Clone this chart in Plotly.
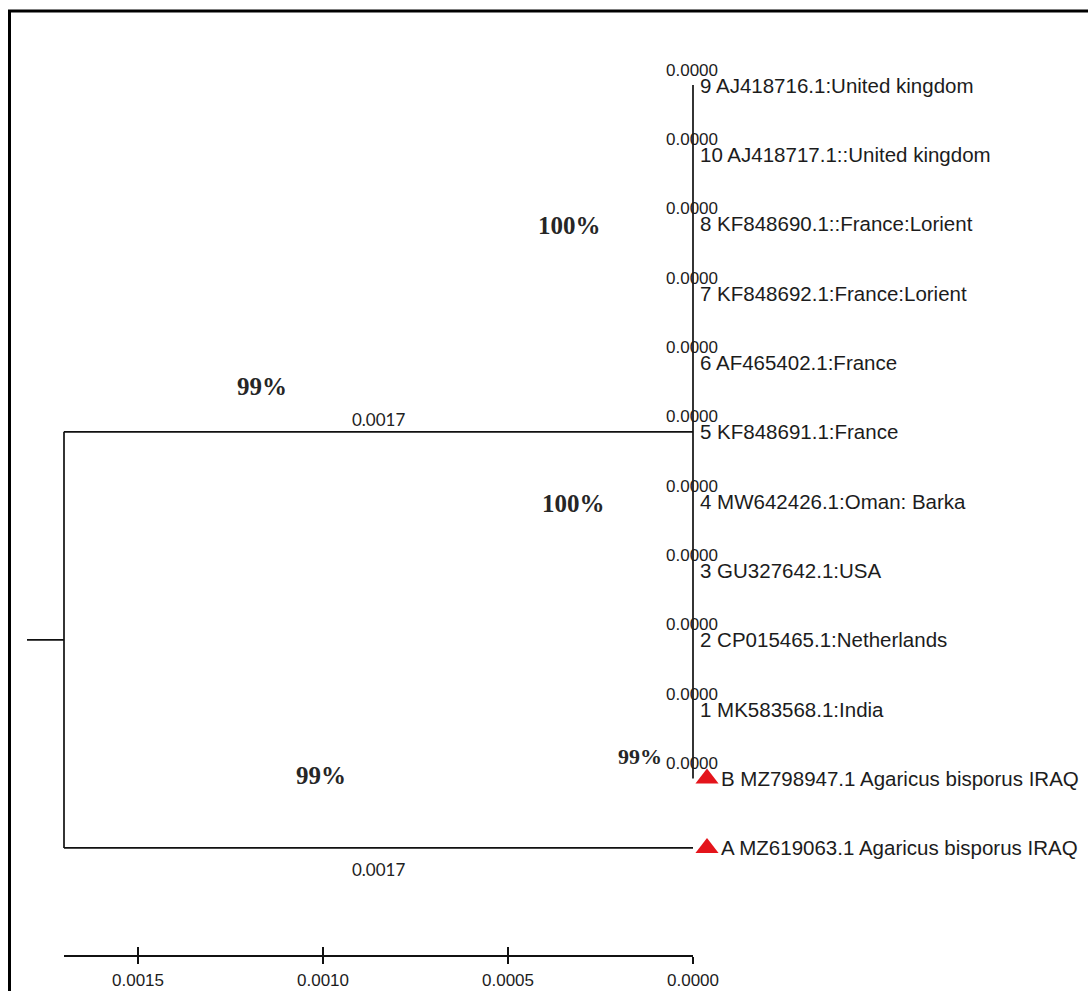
import plotly.graph_objects as go

# ---- tree data -------------------------------------------------------------
clade_leaves = [
    "9 AJ418716.1:United kingdom",
    "10 AJ418717.1::United kingdom",
    "8 KF848690.1::France:Lorient",
    "7 KF848692.1:France:Lorient",
    "6 AF465402.1:France",
    "5 KF848691.1:France",
    "4 MW642426.1:Oman: Barka",
    "3 GU327642.1:USA",
    "2 CP015465.1:Netherlands",
    "1 MK583568.1:India",
    "B MZ798947.1 Agaricus bisporus IRAQ",
]
clade_leaf_lengths = [0.0000, 0.0000, 0.0000, 0.0000, 0.0000, 0.0000,
                      0.0000, 0.0000, 0.0000, 0.0000, 0.0000]
outgroup_leaf = "A MZ619063.1 Agaricus bisporus IRAQ"
clade_stem_length = 0.0017
outgroup_length = 0.0017
marked_leaves = ["B MZ798947.1 Agaricus bisporus IRAQ",
                 "A MZ619063.1 Agaricus bisporus IRAQ"]
bootstrap_labels = ["100%", "100%", "99%", "99%", "99%"]
scale_ticks = [0.0015, 0.0010, 0.0005, 0.0000]

# ---- page geometry (pixels) -----------------------------------------------
W, H = 1088, 991
M_L, M_R, M_T, M_B = 27, 0, 11, 36
PX_ROOT, PX_TIP = 64, 693          # where the root and the tips sit
ROW0_PX, ROW_STEP = 85, 69.36      # first row and row spacing
STUB_PX = 37                       # length of the root stub
MARK_GAP_PX = 14                   # triangle offset right of the tip

plot_w = W - M_L - M_R
plot_h = H - M_T - M_B

# ---- layout of the tree (x = distance to the tips, y = row) ----------------
root_depth = max(clade_stem_length, outgroup_length)
ppu = (PX_TIP - PX_ROOT) / root_depth           # pixels per unit of distance

root_x = root_depth
clade_x = root_x - clade_stem_length
leaf_rows = list(range(len(clade_leaves)))
leaf_xs = [clade_x - L for L in clade_leaf_lengths]
out_row = len(clade_leaves)
out_x = root_x - outgroup_length
clade_y = (leaf_rows[0] + leaf_rows[-1]) / 2
root_y = (clade_y + out_row) / 2

all_names = clade_leaves + [outgroup_leaf]
all_rows = leaf_rows + [out_row]
all_xs = leaf_xs + [out_x]

x_range = [root_x + (PX_ROOT - M_L) / ppu, -(W - M_R - PX_TIP) / ppu]
y_range = [(M_T + plot_h - ROW0_PX) / ROW_STEP, (M_T - ROW0_PX) / ROW_STEP]

# branch segments
segments = [
    (root_x + STUB_PX / ppu, root_y, root_x, root_y),      # root stub
    (root_x, clade_y, root_x, out_row),                    # root vertical
    (root_x, clade_y, clade_x, clade_y),                   # stem to clade
    (root_x, out_row, out_x, out_row),                     # stem to A
    (clade_x, leaf_rows[0], clade_x, leaf_rows[-1]),       # clade vertical
]
for r, x in zip(leaf_rows, leaf_xs):
    if x != clade_x:
        segments.append((clade_x, r, x, r))

fig = go.Figure()
for x0, y0, x1, y1 in segments:
    fig.add_trace(go.Scatter(
        x=[x0, x1], y=[y0, y1], mode="lines",
        line=dict(color="#111111", width=1.7, simplify=False),
        hoverinfo="skip", showlegend=False,
    ))

# red triangles on the Iraqi isolates
mk_x = [all_xs[all_names.index(n)] - MARK_GAP_PX / ppu for n in marked_leaves]
mk_y = [all_rows[all_names.index(n)] for n in marked_leaves]
fig.add_trace(go.Scatter(
    x=mk_x, y=mk_y, mode="markers",
    marker=dict(symbol="triangle-up", size=20, color="#e4141b",
                line=dict(width=0)),
    hoverinfo="skip", showlegend=False, cliponaxis=False,
))

# placeholders so the scale-bar axes are drawn
fig.add_trace(go.Scatter(x=[None], y=[None], xaxis="x2", yaxis="y",
                         hoverinfo="skip", showlegend=False))
fig.add_trace(go.Scatter(x=[None], y=[None], xaxis="x3", yaxis="y",
                         hoverinfo="skip", showlegend=False))

ann = []
sans = "Liberation Sans, Arial, sans-serif"
serif = "Liberation Serif, Times New Roman, serif"
calib = "Lato, Open Sans, sans-serif"

# leaf names
for name, r, x in zip(all_names, all_rows, all_xs):
    shift = 26 if name in marked_leaves else 5
    ann.append(dict(x=x, y=r, text=name, showarrow=False, xanchor="left",
                    yanchor="middle", xshift=shift,
                    font=dict(family=sans, size=20.5, color="#1c1c1c")))

# branch lengths of the clade members
for r, x, L in zip(leaf_rows, leaf_xs, clade_leaf_lengths):
    ann.append(dict(x=(clade_x + x) / 2, y=r, text=f"{L:.4f}", showarrow=False,
                    xanchor="center", yanchor="middle", xshift=-1, yshift=15,
                    font=dict(family=sans, size=17, color="#1c1c1c")))

# branch lengths of the two root stems
ann.append(dict(x=(root_x + clade_x) / 2, y=clade_y, text=f"{clade_stem_length:.4f}",
                showarrow=False, yshift=12,
                font=dict(family=calib, size=17, color="#222222")))
ann.append(dict(x=(root_x + out_x) / 2, y=out_row, text=f"{outgroup_length:.4f}",
                showarrow=False, yshift=-22,
                font=dict(family=calib, size=17, color="#222222")))

# bootstrap support
boot_pos = [(0.000335, 2.02, 25), (0.000324, 6.03, 25), (0.001165, 4.35, 25),
            (0.001005, 9.95, 25), (0.000143, 9.68, 22)]
for txt, (x, y, sz) in zip(bootstrap_labels, boot_pos):
    ann.append(dict(x=x, y=y, text=txt, showarrow=False,
                    font=dict(family=serif, size=sz, color="#262626", weight="bold")))

# frame lines along the top and left edges
def px_x(p):
    return (p - M_L) / plot_w
def px_y(p):
    return (M_T + plot_h - p) / plot_h

shapes = [
    dict(type="line", xref="paper", yref="paper", x0=px_x(8), x1=px_x(W),
         y0=px_y(11), y1=px_y(11), line=dict(color="#000000", width=3)),
    dict(type="line", xref="paper", yref="paper", x0=px_x(9.5), x1=px_x(9.5),
         y0=px_y(10), y1=px_y(H), line=dict(color="#000000", width=3)),
]

bar_domain = [px_x(PX_ROOT), px_x(PX_TIP)]
fig.update_layout(
    width=W, height=H,
    margin=dict(l=M_L, r=M_R, t=M_T, b=M_B, autoexpand=False),
    paper_bgcolor="white", plot_bgcolor="rgba(0,0,0,0)",
    xaxis=dict(range=x_range, visible=False, domain=[0, 1]),
    yaxis=dict(range=y_range, visible=False),
    xaxis2=dict(domain=bar_domain, range=[root_depth, 0], anchor="y",
                showline=True, linecolor="#111111", linewidth=1.7,
                showgrid=False, zeroline=False,
                tickmode="array", tickvals=scale_ticks,
                ticktext=[f"{t:.4f}" for t in scale_ticks],
                ticks="outside", ticklen=7, tickwidth=1.5, tickcolor="#111111",
                ticklabelstandoff=2,
                tickfont=dict(family=sans, size=17, color="#1c1c1c")),
    xaxis3=dict(domain=bar_domain, range=[root_depth, 0], anchor="y",
                overlaying="x2",
                showline=False, showgrid=False, zeroline=False,
                tickmode="array", tickvals=scale_ticks,
                ticks="inside", ticklen=8, tickwidth=1.5, tickcolor="#111111",
                showticklabels=False),
    annotations=ann,
    shapes=shapes,
    showlegend=False,
)

fig.write_html("out.html")
